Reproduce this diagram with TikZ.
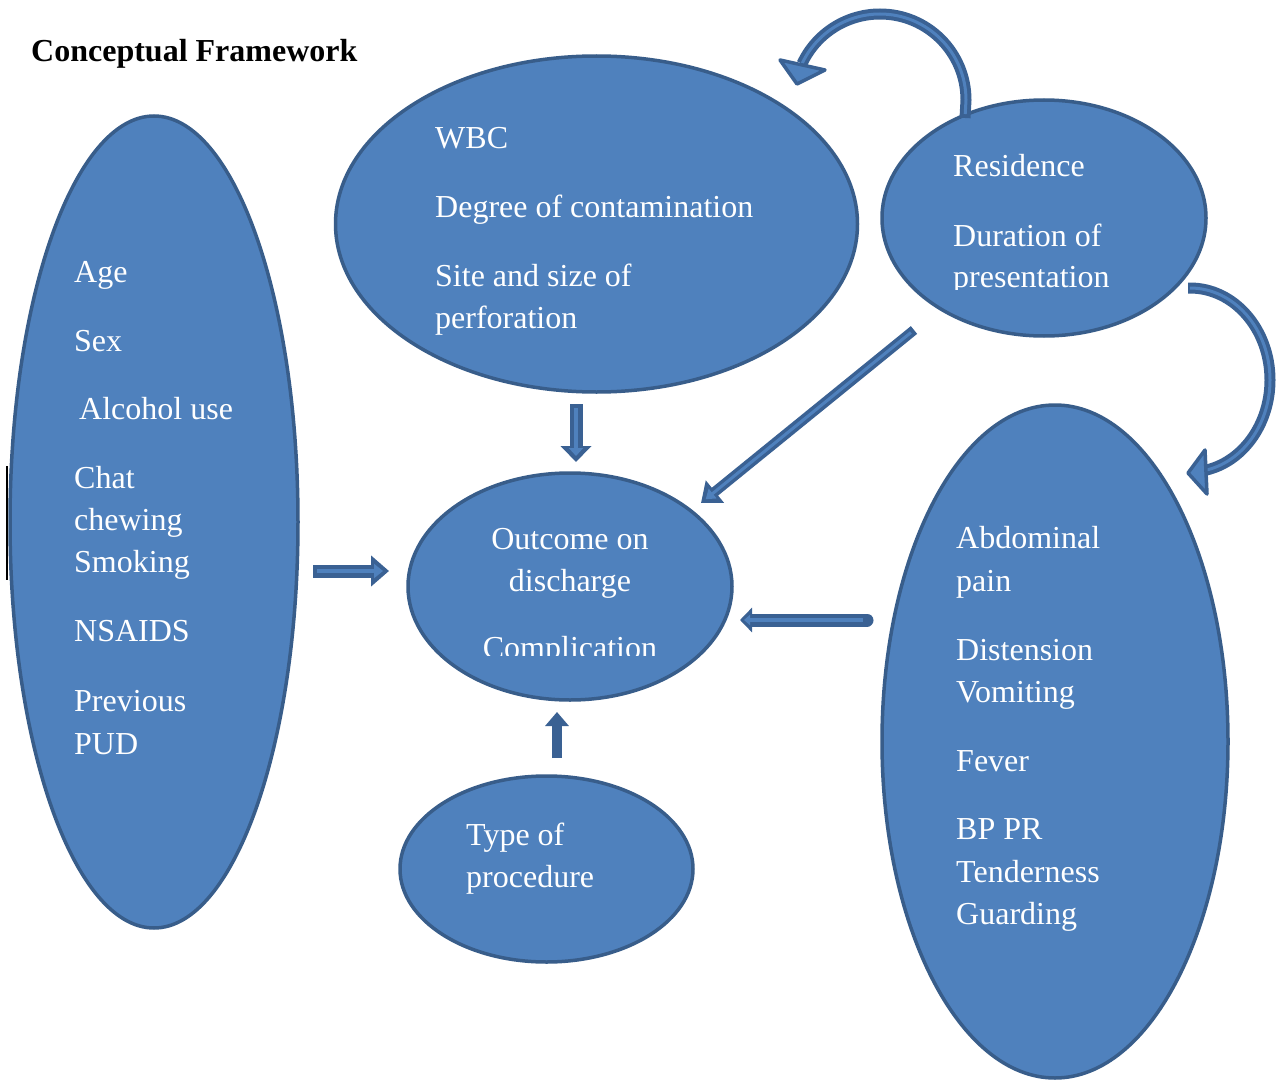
\documentclass[tikz,border=0pt]{standalone}
\usepackage{fontspec}
\setmainfont{Liberation Serif}
\usetikzlibrary{shapes.geometric,arrows.meta}
\definecolor{fillblue}{HTML}{4F81BD}
\definecolor{edgeblue}{HTML}{385D8A}
\definecolor{arrdark}{HTML}{3A6193}
\tikzset{
  ell/.style={ellipse, draw=edgeblue, fill=fillblue, line width=3.5pt, inner sep=0pt},
  txt/.style={text=white, font=\fontsize{32}{38}\selectfont, inner sep=0pt, anchor=base west},
  ctxt/.style={text=white, font=\fontsize{32}{38}\selectfont, inner sep=0pt, anchor=base},
  outerarr/.style={draw=arrdark, line width=#1, line cap=butt},
  innerarr/.style={draw=fillblue, line width=#1, line cap=butt},
  headtri/.style={draw=arrdark, fill=fillblue, line width=3.5pt, line join=round},
}
\begin{document}
\begin{tikzpicture}[x=1pt,y=-1pt]
\useasboundingbox[fill=white] (0,0) rectangle (1278,1081);

% title
\node[anchor=base west, inner sep=0pt, font=\fontsize{32}{36}\selectfont\bfseries] (title) at (31,62) {Conceptual Framework};

% ellipses
\node[ell, minimum width=288pt, minimum height=812pt] (left) at (154,522) {};
\node[ell, minimum width=522pt, minimum height=336pt] (top) at (596.5,224) {};
\node[ell, minimum width=324pt, minimum height=236pt] (res) at (1044,218) {};
\node[ell, minimum width=324pt, minimum height=227pt] (out) at (570,586.5) {};
\node[ell, minimum width=293pt, minimum height=186pt] (type) at (546.5,869) {};
\node[ell, minimum width=346pt, minimum height=673pt] (right) at (1055,741.5) {};

% stray black line
\coordinate (s1) at (7,466);
\coordinate (s2) at (7,580);
\draw[line width=2pt, black] (s1) -- (s2);

% left texts
\node[txt] (l1) at (74,282) {Age};
\node[txt] (l2) at (74,351) {Sex};
\node[txt] (l3) at (79,419) {Alcohol use};
\node[txt] (l4) at (74,488) {Chat};
\node[txt] (l5) at (74,530) {chewing};
\node[txt] (l6) at (74,572) {Smoking};
\node[txt] (l7) at (74,641) {NSAIDS};
\node[txt] (l8) at (74,711) {Previous};
\node[txt] (l9) at (74,754) {PUD};

% top texts
\node[txt] (m1) at (435,148) {WBC};
\node[txt] (m2) at (435,217) {Degree of contamination};
\node[txt] (m3) at (435,286) {Site and size of};
\node[txt] (m4) at (435,328) {perforation};

% residence texts
\node[txt] (r1) at (953,176) {Residence};
\node[txt] (r2) at (953,246) {Duration of};
\begin{scope}
  \clip (940,250) rectangle (1200,289);
  \node[txt] (r3) at (953,287) {presentation};
\end{scope}

% outcome texts
\node[ctxt] (o1) at (570,549) {Outcome on};
\node[ctxt] (o2) at (570,591) {discharge};
\begin{scope}
  \clip (420,600) rectangle (720,655);
  \node[ctxt] (o3) at (570,658) {Complication};
\end{scope}

% type texts
\node[txt] (p1) at (466,845) {Type of};
\node[txt] (p2) at (466,887) {procedure};

% right texts
\node[txt] (k1) at (956,548) {Abdominal};
\node[txt] (k2) at (956,591) {pain};
\node[txt] (k3) at (956,660) {Distension};
\node[txt] (k4) at (956,702) {Vomiting};
\node[txt] (k5) at (956,771) {Fever};
\node[txt] (k6) at (956,839) {BP PR};
\node[txt] (k7) at (956,882) {Tenderness};
\node[txt] (k8) at (956,924) {Guarding};

% arrow coordinates
\coordinate (a1s) at (313,571);  \coordinate (a1e) at (389,571);
\coordinate (a2s) at (576,404);  \coordinate (a2e) at (576,462);
\coordinate (a3s) at (914,330);  \coordinate (a3e) at (701,503);
\coordinate (a4s) at (867,620);  \coordinate (a4e) at (740,620);
\coordinate (a5s) at (557,758);  \coordinate (a5e) at (557,712);

% straight block arrows: outer dark, inner light stripe
\draw[outerarr=13pt, -{Triangle[width=30pt,length=18pt]}] (a1s) -- (a1e);
\draw[innerarr=4pt, shorten <=4pt, shorten >=6pt, -{Triangle[width=14pt,length=9pt]}] (a1s) -- (a1e);

\draw[outerarr=13pt, -{Triangle[width=30pt,length=16pt]}] (a2s) -- (a2e);
\draw[innerarr=4pt, shorten <=4pt, shorten >=6pt, -{Triangle[width=14pt,length=8pt]}] (a2s) -- (a2e);

\draw[outerarr=10pt, -{Triangle[width=28pt,length=18pt]}] (a3s) -- (a3e);
\draw[innerarr=3pt, shorten <=4pt, shorten >=6pt, -{Triangle[width=12pt,length=9pt]}] (a3s) -- (a3e);

\draw[outerarr=13pt, line cap=round, -{Triangle[width=24pt,length=12pt]}] (a4s) -- (a4e);
\draw[innerarr=4pt, shorten <=4pt, shorten >=4pt, -{Triangle[width=10pt,length=6pt]}] (a4s) -- (a4e);

\draw[outerarr=10pt, -{Triangle[width=23pt,length=14pt]}] (a5s) -- (a5e);

% curved arrows (arc shafts + explicit heads)
\coordinate (c1s) at (965,118);
\coordinate (c2s) at (1188,288);
\draw[outerarr=11pt] (c1s) -- (966,100) arc[start angle=0, end angle=-155, radius=86] coordinate (c1e);
\draw[innerarr=3pt, shorten <=4pt] (c1s) -- (966,100) arc[start angle=0, end angle=-155, radius=86];
\draw[headtri] (780,60) -- (825,70) -- (797,84) -- cycle;

\draw[outerarr=11pt] (c2s) -- (1190,288) arc[start angle=-90, end angle=80, x radius=80, y radius=92] coordinate (c2e);
\draw[innerarr=3pt, shorten <=4pt] (c2s) -- (1190,288) arc[start angle=-90, end angle=80, x radius=80, y radius=92];
\draw[headtri] (1205,450) -- (1207,494) -- (1188,473) -- cycle;
\end{tikzpicture}
\end{document}
